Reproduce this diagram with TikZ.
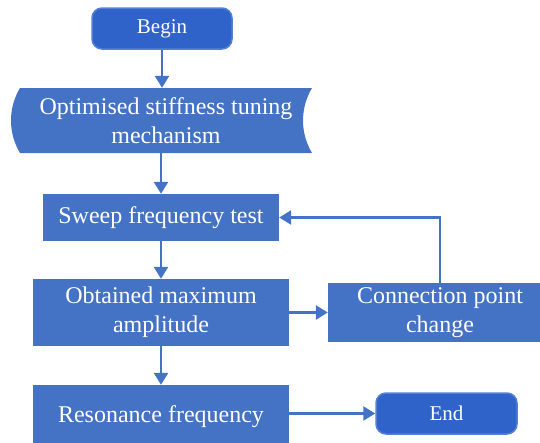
\documentclass[tikz,border=0pt]{standalone}
\usepackage{fontspec}
\setmainfont{Liberation Serif}
\usetikzlibrary{arrows.meta}

\definecolor{boxblue}{HTML}{4472C4}
\definecolor{termblue}{HTML}{2F63CA}
\definecolor{termedge}{HTML}{5580D4}

\begin{document}
\begin{tikzpicture}[x=1pt,y=-1pt,
    box/.style={fill=boxblue,text=white,align=center,inner sep=0pt,font=\fontsize{24}{29}\selectfont},
    term/.style={fill=termblue,draw=termedge,line width=1.5pt,rounded corners=10pt,text=white,inner sep=0pt,font=\fontsize{21}{25}\selectfont},
    arr/.style={draw=boxblue,line width=2.5pt,-{Triangle[width=14pt,length=12pt]}}]
  \useasboundingbox (0,0) rectangle (540,442);

  % block with bowed sides
  \fill[boxblue] (20,88) .. controls (8,108) and (8,133) .. (20,153) -- (312,153)
    .. controls (300,133) and (300,108) .. (312,88) -- cycle;

  \node[term,minimum width=140pt,minimum height=41pt] (B) at (162,28.5) {Begin};
  \node[box,fill=none,minimum width=292pt,minimum height=65pt] (OPT) at (166,120.5) {Optimised stiffness tuning\\mechanism};
  \node[box,minimum width=236pt,minimum height=47pt] (SWEEP) at (161,217.5) {Sweep frequency test};
  \node[box,minimum width=256pt,minimum height=67pt] (OBT) at (161,312.5) {Obtained maximum\\amplitude};
  \node[box,minimum width=224pt,minimum height=59pt] (CONN) at (440,312.5) {Connection point\\change};
  \node[box,minimum width=256pt,minimum height=64pt] (RES) at (161,417) {Resonance frequency};
  \node[term,minimum width=141pt,minimum height=41pt] (END) at (446.5,413.5) {End};

  \draw[arr] (B) -- (B |- OPT.north);
  \draw[arr] (OPT.south -| SWEEP.north) -- (SWEEP.north);
  \draw[arr] (SWEEP) -- (OBT);
  \draw[arr] (OBT) -- (RES);
  \draw[arr] (OBT) -- (CONN);
  \draw[arr] (CONN.north) |- (SWEEP.east);
  \draw[arr] (END.west -| RES.east) -- (END.west);
\end{tikzpicture}
\end{document}
